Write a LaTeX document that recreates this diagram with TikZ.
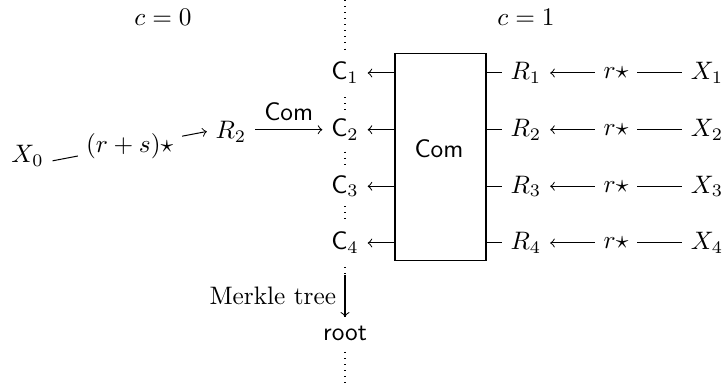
\documentclass[tikz,border=0pt]{standalone}
\usepackage{amsmath, amssymb}
\usepackage{tikz}
\usetikzlibrary{positioning, calc}
\tikzset{
  maparrow/.style={->},
  mapline/.style={-},
  splitnode/.style={fill=white},
  starlabel/.style={fill=white},
  sidewall/.style={dotted}
}

\begin{document}
\begin{tikzpicture}[x=0.0139cm, y=-0.0139cm]
    \useasboundingbox (0,0) rectangle (724,383);
    \coordinate (wtop) at (345,0);
    \coordinate (wbot) at (345,383);
    \draw[sidewall] (wtop) -- (wbot);
    \node (czero) at (163,17.5) {$c=0$};
    \node (cone) at (526,17.5) {$c=1$};
    \node (combox) [draw, minimum width=1.265cm, minimum height=2.89cm] at (440.5,157) {};
    \node (comtext) at (439,148.5) {\textsf{Com}};
    \node (c1) [splitnode] at (345,73) {$\mathsf{C}_1$};
    \node (c2) [splitnode] at (345,129.7) {$\mathsf{C}_2$};
    \node (c3) [splitnode] at (345,186.3) {$\mathsf{C}_3$};
    \node (c4) [splitnode] at (345,243) {$\mathsf{C}_4$};
    \node (r1) at (526,73) {$R_1$};
    \node (r2) at (526,129.7) {$R_2$};
    \node (r3) at (526,186.3) {$R_3$};
    \node (r4) at (526,243) {$R_4$};
    \node (x1) at (707,73) {$X_1$};
    \node (x2) at (707,129.7) {$X_2$};
    \node (x3) at (707,186.3) {$X_3$};
    \node (x4) at (707,243) {$X_4$};
    \node (x0) at (27.5,155.5) {$X_0$};
    \node (r2l) at (231,131.5) {$R_2$};
    \coordinate (mtop) at (345,275);
    \node (root) [splitnode] at (345,333) {\textsf{root}};
    \draw[maparrow] (combox.west |- c1) -- (c1);
    \draw[maparrow] (combox.west |- c2) -- (c2);
    \draw[maparrow] (combox.west |- c3) -- (c3);
    \draw[maparrow] (combox.west |- c4) -- (c4);
    \draw[mapline] (combox.east |- r1) -- (r1);
    \draw[mapline] (combox.east |- r2) -- (r2);
    \draw[mapline] (combox.east |- r3) -- (r3);
    \draw[mapline] (combox.east |- r4) -- (r4);
    \draw[maparrow] (x1) -- node[starlabel] (s1) {$r\star$} (r1);
    \draw[maparrow] (x2) -- node[starlabel] (s2) {$r\star$} (r2);
    \draw[maparrow] (x3) -- node[starlabel] (s3) {$r\star$} (r3);
    \draw[maparrow] (x4) -- node[starlabel] (s4) {$r\star$} (r4);
    \draw[maparrow] (x0.-12) -- node[starlabel] (s0) {$(r+s)\star$} (r2l.west);
    \draw[maparrow] (r2l.east |- c2) -- node[above] (comlbl) {\textsf{Com}} (c2);
    \draw[maparrow] (mtop) -- (root) node[midway, left] (merkle) {Merkle tree};
\end{tikzpicture}
\end{document}
